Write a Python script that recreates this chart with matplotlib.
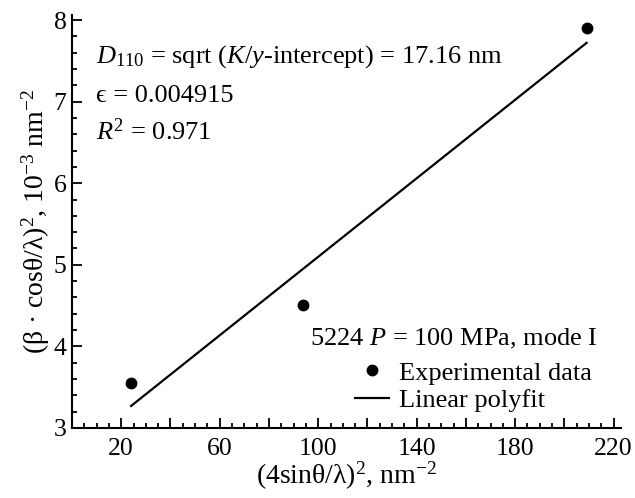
import numpy as np
import matplotlib as mpl
mpl.use('Agg')
import matplotlib.pyplot as plt
from matplotlib.ticker import FixedLocator, MultipleLocator, FuncFormatter

plt.rcParams['font.family'] = ['Liberation Serif', 'DejaVu Serif']
plt.rcParams['mathtext.fontset'] = 'custom'
plt.rcParams['mathtext.rm'] = 'Liberation Serif'
plt.rcParams['mathtext.it'] = 'Liberation Serif:italic'

# data
exp_x = [24, 94, 209]
exp_y = [3.55, 4.51, 7.90]
fit_x = [24, 209]
fit_y = [3.27, 7.72]

x_major = [20, 40, 60, 80, 100, 120, 140, 160, 180, 200, 220]
x_labeled = [20, 60, 100, 140, 180, 220]
y_major = [3, 4, 5, 6, 7, 8]

fig = plt.figure(figsize=(6.35, 4.98), dpi=100)
ax = fig.add_axes([0.1134, 0.1406, 0.8646, 0.829])

ax.plot(exp_x, exp_y, 'o', color='k', ms=7.5, ls='none', label='Experimental data')
ax.plot(fit_x, fit_y, '-', color='k', lw=1.6, label='Linear polyfit')

ax.set_xlim(0, 223)
ax.set_ylim(3, 8.06)

for s in ['top', 'right']:
    ax.spines[s].set_visible(False)
for s in ['left', 'bottom']:
    ax.spines[s].set_linewidth(1.5)

ax.xaxis.set_major_locator(FixedLocator(x_major))
ax.xaxis.set_major_formatter(FuncFormatter(lambda v, p: '%d' % v if int(round(v)) in x_labeled else ''))
ax.xaxis.set_minor_locator(MultipleLocator(5))
ax.yaxis.set_major_locator(FixedLocator(y_major))
ax.yaxis.set_minor_locator(MultipleLocator(0.2))
ax.tick_params(which='both', direction='in', width=1.3, labelsize=18.5)
ax.tick_params(which='major', length=7)
ax.tick_params(which='minor', length=3.5)
ax.tick_params(axis='x', pad=7)
ax.tick_params(axis='y', pad=4)

ax.set_xlabel('(4sinθ/λ)$^2$, nm$^{−2}$', fontsize=20, labelpad=0)
ax.set_ylabel('(β · cosθ/λ)$^2$, 10$^{−3}$ nm$^{−2}$', fontsize=20, labelpad=1)

ax.text(0.044, 0.886, '$D_{110}$ = sqrt ($K$/$y$-intercept) = 17.16 nm', transform=ax.transAxes,
        fontsize=19, va='baseline')
ax.text(0.044, 0.789, '\u03f5 = 0.004915', transform=ax.transAxes, fontsize=19, va='baseline')
ax.text(0.044, 0.697, '$R^2$ = 0.971', transform=ax.transAxes, fontsize=19, va='baseline')

ax.text(0.958, 0.201, '5224 $P$ = 100 MPa, mode I', transform=ax.transAxes,
        fontsize=19, ha='right', va='baseline')
ax.legend(loc='center left', bbox_to_anchor=(355 / 635, 1 - 386.5 / 498), bbox_transform=fig.transFigure,
          frameon=False, fontsize=19, handlelength=1.3, handletextpad=0.35, labelspacing=0.15,
          borderpad=0, borderaxespad=0)

fig.savefig('out.png', dpi=100)
